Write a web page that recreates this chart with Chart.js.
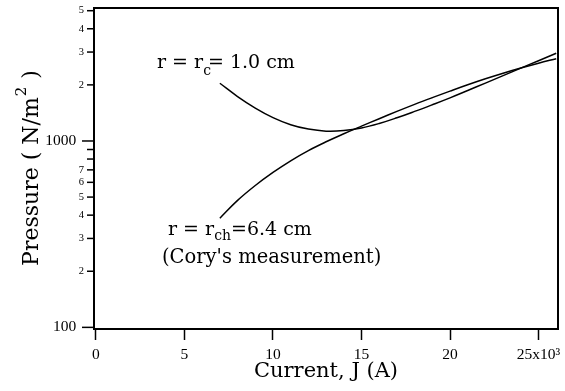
<!DOCTYPE html>
<html>
<head>
<meta charset="utf-8">
<script src="https://cdn.jsdelivr.net/npm/chart.js@4.4.0/dist/chart.umd.min.js"></script>
<style>
body { margin: 0; background: #fff; }
canvas { display: block; }
</style>
</head>
<body>
<canvas id="myChart" width="565" height="391"></canvas>
<script>
/*globals Chart*/
// values
const currents = [7000, 8000, 9000, 10000, 11000, 12000, 13000, 14000, 15000, 16000, 17000, 18000, 19000, 20000, 21000, 22000, 23000, 24000, 25000, 26000];
const pressureRc = [2040, 1732, 1502, 1335, 1223, 1158, 1129, 1137, 1174, 1241, 1332, 1441, 1565, 1704, 1865, 2045, 2242, 2459, 2696, 2955];
const pressureRch = [385, 480, 577, 678, 783, 888, 990, 1093, 1201, 1317, 1441, 1572, 1708, 1851, 2002, 2156, 2310, 2463, 2615, 2764];

const xTicks = [0, 5000, 10000, 15000, 20000, 25000];
const xTickLabels = ["0", "5", "10", "15", "20", "25x10\u00b3"];
const yTicks = [100, 200, 300, 400, 500, 600, 700, 800, 900, 1000, 2000, 3000, 4000, 5000];
const yTickLabels = ["100", "2", "3", "4", "5", "6", "7", "", "", "1000", "2", "3", "4", "5"];
const yMajor = [100, 1000];

const serif = "DejaVu Serif";
const numFont = "Liberation Serif";

function toPoints(xs, ys) {
	return xs.map((x, i) => ({ x: x, y: ys[i] }));
}

function noPadding(scale) {
	scale.paddingTop = 0;
	scale.paddingBottom = 0;
	scale.paddingLeft = 0;
	scale.paddingRight = 0;
}

function drawSub(ctx, x, y, main, sub, rest, size, subSize, subDrop, restShift) {
	ctx.font = size + "px '" + serif + "'";
	ctx.fillText(main, x, y);
	const w = ctx.measureText(main).width;
	ctx.font = subSize + "px '" + serif + "'";
	ctx.fillText(sub, x + w, y + subDrop);
	const sw = ctx.measureText(sub).width;
	ctx.font = size + "px '" + serif + "'";
	ctx.fillText(rest, x + w + sw + restShift, y);
}

const decorPlugin = {
	id: "decor",
	afterDraw(chart) {
		const ctx = chart.ctx;
		const a = chart.chartArea;
		const yScale = chart.scales.y;
		ctx.save();
		ctx.strokeStyle = "#000";
		ctx.fillStyle = "#000";
		// y ticks, long for decades
		ctx.lineWidth = 1.5;
		yTicks.forEach((v) => {
			const py = yScale.getPixelForValue(v);
			const len = yMajor.includes(v) ? 12 : 7;
			ctx.beginPath();
			ctx.moveTo(a.left - len, py);
			ctx.lineTo(a.left, py);
			ctx.stroke();
		});
		// top and right frame
		ctx.lineWidth = 2;
		ctx.beginPath();
		ctx.moveTo(a.left, a.top);
		ctx.lineTo(a.right, a.top);
		ctx.lineTo(a.right, a.bottom);
		ctx.stroke();

		// curve labels
		ctx.textAlign = "left";
		ctx.textBaseline = "alphabetic";
		drawSub(ctx, 157, 68, "r = r", "c", "= 1.0 cm", 19, 14, 7, -3);
		drawSub(ctx, 168, 235, "r = r", "ch", "=6.4 cm", 19, 14, 5, 0);
		ctx.font = "19.5px '" + serif + "'";
		ctx.fillText("(Cory's measurement)", 162, 263);

		// y axis title
		ctx.translate(32, 168);
		ctx.rotate(-Math.PI / 2);
		ctx.textBaseline = "middle";
		ctx.font = "22px '" + serif + "'";
		const p1 = "Pressure ( N/m";
		const p3 = " )";
		const w1 = ctx.measureText(p1).width;
		const w3 = ctx.measureText(p3).width;
		ctx.font = "15px '" + serif + "'";
		const w2 = ctx.measureText("2").width + 2;
		const x = -(w1 + w2 + w3) / 2;
		ctx.font = "22px '" + serif + "'";
		ctx.fillText(p1, x, 0);
		ctx.font = "15px '" + serif + "'";
		ctx.fillText("2", x + w1 + 1, -10);
		ctx.font = "22px '" + serif + "'";
		ctx.fillText(p3, x + w1 + w2, 0);
		ctx.restore();
	},
};

function makeChart() {
	const ctx = document.getElementById("myChart").getContext("2d");
	new Chart(ctx, {
		type: "scatter",
		data: {
			datasets: [
				{
					label: "r = rc = 1.0 cm",
					data: toPoints(currents, pressureRc),
					showLine: true,
					borderColor: "#000",
					borderWidth: 1.5,
					pointRadius: 0,
					tension: 0.4,
				},
				{
					label: "r = rch = 6.4 cm",
					data: toPoints(currents, pressureRch),
					showLine: true,
					borderColor: "#000",
					borderWidth: 1.5,
					pointRadius: 0,
					tension: 0.4,
				},
			],
		},
		options: {
			responsive: false,
			animation: false,
			layout: { padding: { top: 8, right: 7, left: 0, bottom: 0 } },
			plugins: {
				legend: { display: false },
				tooltip: { enabled: false },
			},
			scales: {
				x: {
					type: "linear",
					min: -110,
					max: 26100,
					afterFit(scale) {
						scale.height = 62;
						noPadding(scale);
					},
					afterBuildTicks(scale) {
						scale.ticks = xTicks.map((v) => ({ value: v }));
					},
					border: { display: true, color: "#000", width: 2 },
					grid: {
						drawOnChartArea: false,
						drawTicks: true,
						tickLength: 11,
						tickColor: "#000",
						tickWidth: 1.5,
					},
					ticks: {
						padding: 6,
						color: "#000",
						maxRotation: 0,
						font: { family: numFont, size: 15.5 },
						callback: (v) => xTickLabels[xTicks.indexOf(v)],
					},
					title: {
						display: true,
						text: "Current, J (A)",
						color: "#000",
						font: { family: serif, size: 21 },
						padding: { top: 0, bottom: 7 },
					},
				},
				y: {
					type: "logarithmic",
					min: 98,
					max: 5170,
					afterFit(scale) {
						scale.width = 94;
						noPadding(scale);
					},
					afterBuildTicks(scale) {
						scale.ticks = yTicks.map((v) => ({ value: v }));
					},
					border: { display: true, color: "#000", width: 2 },
					grid: { drawOnChartArea: false, drawTicks: false },
					ticks: {
						padding: 10,
						color: "#000",
						autoSkip: false,
						font: (c) => ({ family: numFont, size: c.tick && yMajor.includes(c.tick.value) ? 15.5 : 10.5 }),
						callback: (v) => {
							const i = yTicks.indexOf(v);
							return yMajor.includes(v) ? yTickLabels[i] + "\u2002" : yTickLabels[i];
						},
					},
				},
			},
		},
		plugins: [decorPlugin],
	});
}
makeChart();
</script>
</body>
</html>
